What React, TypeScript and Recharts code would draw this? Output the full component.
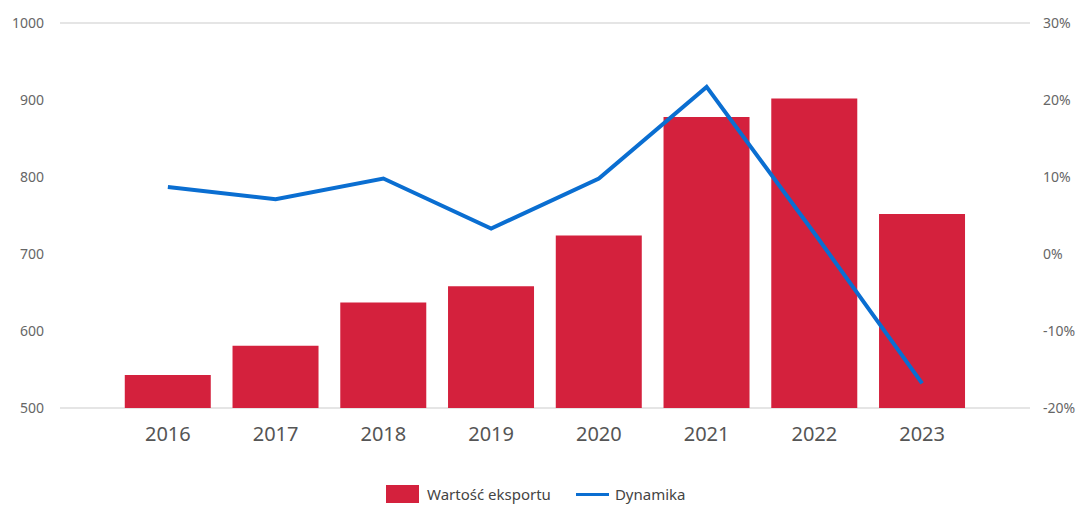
import React from 'react';
import {
  ComposedChart,
  Bar,
  Line,
  XAxis,
  YAxis,
  CartesianGrid,
} from 'recharts';

// Values
const years = ['2016', '2017', '2018', '2019', '2020', '2021', '2022', '2023'];
const exportValue = [543, 581, 637, 658, 724, 878, 902, 752];
const dynamics = [8.7, 7.1, 9.8, 3.3, 9.8, 21.7, 2.7, -16.8];
const leftTicks = [500, 600, 700, 800, 900, 1000];
const rightTicks = [-20, -10, 0, 10, 20, 30];

const data = years.map((year, i) => ({
  year,
  value: exportValue[i],
  dyn: dynamics[i],
}));

const FONT = '"Segoe UI", "Noto Sans", "Open Sans", sans-serif';
const RED = '#d4213d';
const BLUE = '#0a6ed1';

const App: React.FC = () => {
  return (
    <div style={{ position: 'relative', width: 1083, height: 506, overflow: 'hidden', fontFamily: FONT, background: '#fff' }}>
      <style>{'body{margin:0;}'}</style>
      <ComposedChart
        width={1083}
        height={506}
        data={data}
        margin={{ top: 23, right: 0, left: 0, bottom: 58 }}
        barCategoryGap="10%"
      >
        <CartesianGrid vertical={false} stroke="#dcdcdc" strokeWidth={1.5} />
        <XAxis
          dataKey="year"
          axisLine={false}
          tickLine={false}
          height={40}
          tickMargin={13}
          padding={{ left: 54, right: 54 }}
          tick={{ fill: '#555', fontSize: 20, fontFamily: FONT }}
        />
        <YAxis
          yAxisId="left"
          domain={[500, 1000]}
          ticks={leftTicks}
          width={60}
          axisLine={false}
          tickLine={false}
          tickMargin={10}
          tick={{ fill: '#666', fontSize: 14, fontFamily: FONT }}
        />
        <YAxis
          yAxisId="right"
          orientation="right"
          domain={[-20, 30]}
          ticks={rightTicks}
          width={53}
          axisLine={false}
          tickLine={false}
          tickMargin={7}
          tickFormatter={(v: number) => `${v}%`}
          tick={{ fill: '#666', fontSize: 14, fontFamily: FONT }}
        />
        <Bar yAxisId="left" dataKey="value" fill={RED} isAnimationActive={false} />
        <Line
          yAxisId="right"
          dataKey="dyn"
          stroke={BLUE}
          strokeWidth={4}
          dot={false}
          type="linear"
          isAnimationActive={false}
        />
      </ComposedChart>
      <div
        style={{
          position: 'absolute',
          top: 485,
          left: 386,
          display: 'flex',
          alignItems: 'flex-start',
          fontSize: 15,
          lineHeight: '18px',
          color: '#444',
          whiteSpace: 'nowrap',
        }}
      >
        <span style={{ display: 'inline-block', width: 33, height: 18, background: RED, marginRight: 8 }} />
        <span style={{ marginRight: 25 }}>Wartość eksportu</span>
        <span style={{ display: 'inline-block', width: 33, height: 3, marginTop: 8, background: BLUE, marginRight: 6 }} />
        <span>Dynamika</span>
      </div>
    </div>
  );
};

export default App;
